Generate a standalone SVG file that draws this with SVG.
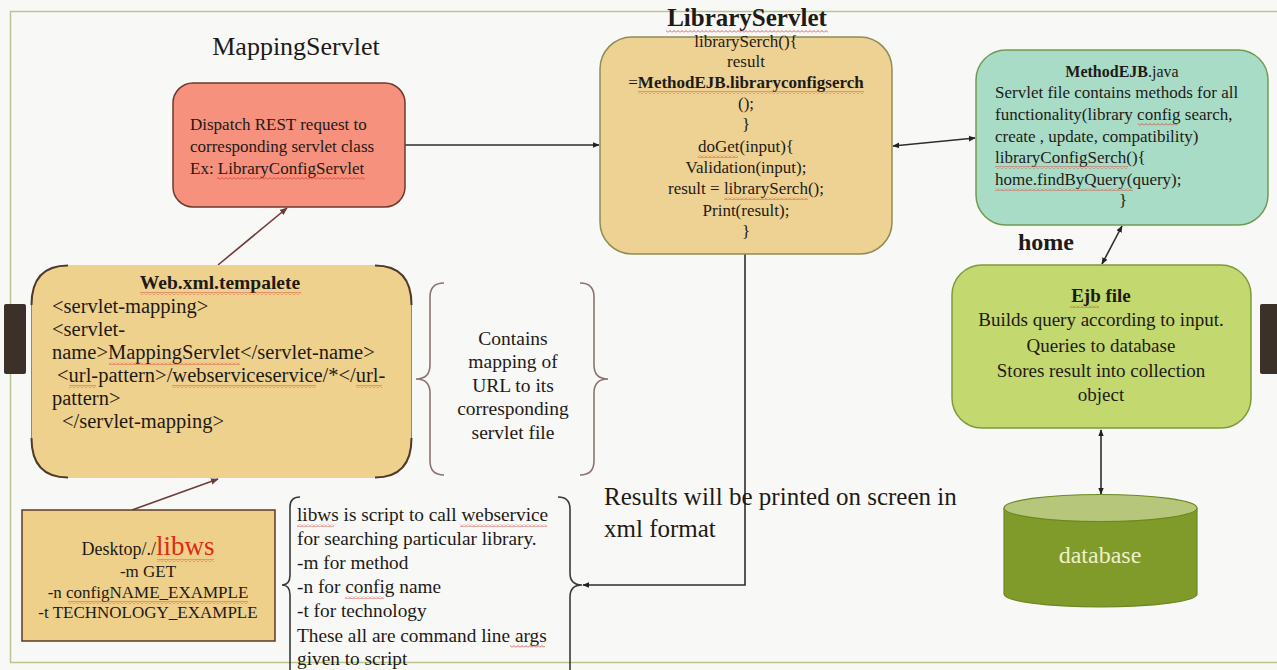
<svg xmlns="http://www.w3.org/2000/svg" width="1277" height="670" viewBox="0 0 1277 670">
  <style>
    text { font-family: "Liberation Serif", "Times New Roman", serif; fill: #1e1a16; }
    .b { font-weight: bold; }
    .c { text-anchor: middle; }
    .conn { fill: none; stroke: #2e2e2e; stroke-width: 1.6; }
    .conn-br { fill: none; stroke: #6e3b37; stroke-width: 1.6; }
    .brace { fill: none; stroke: #8c7470; stroke-width: 1.6; }
    .brace-dk { fill: none; stroke: #3a3a3a; stroke-width: 1.6; }
    .sq { fill: url(#squiggle); }
  </style>
  <defs>
    <marker id="ah" viewBox="0 0 10 10" refX="9" refY="5" markerWidth="7" markerHeight="7" orient="auto-start-reverse" markerUnits="userSpaceOnUse">
      <path d="M0,1 L10,5 L0,9 z" fill="#222"/>
    </marker>
    <marker id="ahb" viewBox="0 0 10 10" refX="9" refY="5" markerWidth="8" markerHeight="8" orient="auto" markerUnits="userSpaceOnUse">
      <path d="M0,1 L10,5 L0,9 z" fill="#6e3b37"/>
    </marker>
    <!-- red spell-check wave -->
    <pattern id="squiggle" width="4" height="3" patternUnits="userSpaceOnUse">
      <path d="M0,2.5 L2,0.5 L4,2.5" fill="none" stroke="#d83a30" stroke-width="0.8"/>
    </pattern>
  </defs>

  <!-- page -->
  <rect x="0" y="0" width="1277" height="670" fill="#f8f8f7"/>
  <rect x="10.5" y="11.5" width="1290" height="651" fill="none" stroke="#b7c68e" stroke-width="1.5"/>
  <rect x="4" y="304" width="22" height="70" rx="2" fill="#3b3128"/>
  <rect x="1260" y="304" width="22" height="70" rx="2" fill="#3b3128"/>

  <!-- connectors -->
  <g id="connectors">
    <line class="conn" x1="405" y1="145" x2="599" y2="145" marker-end="url(#ah)"/>
    <line class="conn" x1="893" y1="146" x2="975" y2="138" marker-start="url(#ah)" marker-end="url(#ah)"/>
    <line class="conn" x1="1122" y1="226" x2="1102" y2="264" marker-start="url(#ah)" marker-end="url(#ah)"/>
    <line class="conn" x1="1101" y1="430" x2="1101" y2="494" marker-start="url(#ah)" marker-end="url(#ah)"/>
    <line class="conn-br" x1="218" y1="265" x2="287" y2="208" marker-end="url(#ahb)"/>
    <line class="conn-br" x1="132" y1="510" x2="218" y2="479" marker-end="url(#ahb)"/>
    <path class="conn" d="M745,254 L745,585 L583,585" marker-end="url(#ah)"/>
  </g>

  <!-- MappingServlet -->
  <g id="mapping-servlet">
    <text x="296" y="55" class="c" font-size="26">MappingServlet</text>
    <rect x="173" y="83" width="232" height="124" rx="20" fill="#f5917d" stroke="#6b3a2e" stroke-width="1.5"/>
    <text x="190" y="130" font-size="17">Dispatch REST request to</text>
    <text x="190" y="152" font-size="17">corresponding servlet class</text>
    <text x="190" y="174" font-size="17">Ex: LibraryConfigServlet</text>
    <rect class="sq" x="217" y="177" width="148" height="3"/>
  </g>

  <!-- LibraryServlet -->
  <g id="library-servlet">
    <rect x="600" y="37" width="292" height="217" rx="32" fill="#eed293" stroke="#8e8c55" stroke-width="1.5"/>
    <text x="747" y="26" class="c b" font-size="25">LibraryServlet</text>
    <rect class="sq" x="666" y="30" width="162" height="3"/>
    <g font-size="17" text-anchor="middle">
      <text x="746" y="47">librarySerch(){</text>
      <text x="746" y="67">result</text>
      <text x="746" y="88"><tspan>=</tspan><tspan class="b">MethodEJB.libraryconfigserch</tspan></text>
      <text x="746" y="109">();</text>
      <text x="746" y="130">}</text>
      <text x="746" y="152">doGet(input){</text>
      <text x="746" y="173">Validation(input);</text>
      <text x="746" y="194">result = librarySerch();</text>
      <text x="746" y="216">Print(result);</text>
      <text x="746" y="237">}</text>
    </g>
    <rect class="sq" x="638" y="91" width="226" height="3"/>
    <rect class="sq" x="698" y="155" width="40" height="3"/>
    <rect class="sq" x="724" y="197" width="84" height="3"/>
  </g>

  <!-- MethodEJB.java -->
  <g id="method-ejb">
    <rect x="976" y="50" width="292" height="175" rx="30" fill="#a9dcc7" stroke="#6f9b52" stroke-width="1.5"/>
    <text x="1122" y="77" class="c" font-size="16"><tspan class="b">MethodEJB</tspan><tspan>.java</tspan></text>
    <g font-size="17">
      <text x="995" y="98">Servlet file contains methods for all</text>
      <text x="995" y="120">functionality(library config search,</text>
      <text x="995" y="142">create , update, compatibility)</text>
      <text x="995" y="163">libraryConfigSerch(){</text>
      <text x="995" y="185">home.findByQuery(query);</text>
      <text x="1123" y="206" class="c">}</text>
    </g>
    <rect class="sq" x="1138" y="123" width="40" height="3"/>
    <rect class="sq" x="995" y="166" width="133" height="3"/>
    <rect class="sq" x="995" y="188" width="138" height="3"/>
  </g>

  <text x="1018" y="250" class="b" font-size="24">home</text>

  <!-- Ejb file -->
  <g id="ejb-file">
    <rect x="952" y="265" width="299" height="163" rx="30" fill="#c3d86f" stroke="#7d9a3d" stroke-width="1.5"/>
    <g font-size="19" text-anchor="middle">
      <text x="1101" y="302" class="b">Ejb file</text>
      <text x="1101" y="326">Builds query  according to input.</text>
      <text x="1101" y="352">Queries to database</text>
      <text x="1101" y="377">Stores result into collection</text>
      <text x="1101" y="401">object</text>
    </g>
    <rect class="sq" x="1070" y="305" width="29" height="3"/>
  </g>

  <!-- database -->
  <g id="database">
    <path d="M1004,508 L1004,594 A96.5,13 0 0 0 1197,594 L1197,508" fill="#809b29" stroke="#6c8822" stroke-width="1.2"/>
    <ellipse cx="1100.5" cy="508" rx="96.5" ry="13.5" fill="#b6c67b" stroke="#6c8822" stroke-width="1.2"/>
    <text x="1100" y="563" class="c" font-size="24" style="fill:#eef0cc">database</text>
  </g>

  <!-- Web.xml.tempalete -->
  <g id="web-xml">
    <rect x="31" y="265" width="381" height="213" rx="34" fill="#efd18e"/>
    <path d="M31.5,300 L31.5,443 M411.5,300 L411.5,443" stroke="#a0845a" stroke-width="1" fill="none"/>
    <path d="M31.5,305 Q31.5,265.5 68,265.5 M375,265.5 Q411.5,265.5 411.5,305 M411.5,438 Q411.5,477.5 375,477.5 M68,477.5 Q31.5,477.5 31.5,438" stroke="#4e3a2a" stroke-width="2" fill="none"/>
    <text x="220" y="289" class="c b" font-size="19.5">Web.xml.tempalete</text>
    <rect class="sq" x="140" y="292" width="161" height="3"/>
    <g font-size="20.5">
      <text x="52" y="313">&lt;servlet-mapping&gt;</text>
      <text x="52" y="336">&lt;servlet-</text>
      <text x="52" y="359">name&gt;MappingServlet&lt;/servlet-name&gt;</text>
      <text x="57" y="382">&lt;url-pattern&gt;/webserviceservice/*&lt;/url-</text>
      <text x="52" y="405">pattern&gt;</text>
      <text x="62" y="428">&lt;/servlet-mapping&gt;</text>
    </g>
    <rect class="sq" x="109" y="362" width="131" height="3"/>
    <rect class="sq" x="69" y="385" width="27" height="3"/>
    <rect class="sq" x="172" y="385" width="144" height="3"/>
    <rect class="sq" x="356" y="385" width="26" height="3"/>
  </g>

  <!-- mapping note -->
  <g id="mapping-note">
    <path class="brace" d="M444,283 Q430,283 430,297 L430,365 Q430,379 416,379 Q430,379 430,393 L430,461 Q430,475 444,475"/>
    <path class="brace" d="M580,283 Q594,283 594,297 L594,365 Q594,379 608,379 Q594,379 594,393 L594,461 Q594,475 580,475"/>
    <g font-size="19.5" text-anchor="middle">
      <text x="513" y="345">Contains</text>
      <text x="513" y="368">mapping of</text>
      <text x="513" y="392">URL to its</text>
      <text x="513" y="415">corresponding</text>
      <text x="513" y="439">servlet file</text>
    </g>
  </g>

  <!-- command line -->
  <g id="libws-command">
    <rect x="22" y="510" width="253" height="131" fill="#efd08b" stroke="#5a3a2a" stroke-width="1.5"/>
    <text x="148" y="555" class="c" font-size="18"><tspan>Desktop/./</tspan><tspan font-size="27" style="fill:#dd2a12">libws</tspan></text>
    <g font-size="17" text-anchor="middle">
      <text x="148" y="577">-m GET</text>
      <text x="148" y="598">-n configNAME_EXAMPLE</text>
      <text x="148" y="618">-t TECHNOLOGY_EXAMPLE</text>
    </g>
    <rect class="sq" x="157" y="559" width="57" height="3"/>
    <rect class="sq" x="68" y="601" width="180" height="3"/>
  </g>

  <!-- libws note -->
  <g id="libws-note">
    <path class="brace-dk" d="M300,497 Q290,497 290,507 L290,575 Q290,585 282,585 Q290,585 290,595 L290,690"/>
    <path class="brace-dk" d="M558,497 Q570,497 570,509 L570,573 Q570,585 582,585 Q570,585 570,597 L570,690"/>
    <g font-size="19.3">
      <text x="297" y="521">libws is script to call webservice</text>
      <text x="297" y="545">for searching particular library.</text>
      <text x="297" y="569">-m for method</text>
      <text x="297" y="593">-n for config name</text>
      <text x="297" y="617">-t for technology</text>
      <text x="297" y="642">These all are command line args</text>
      <text x="297" y="665">given to script</text>
    </g>
    <rect class="sq" x="297" y="524" width="37" height="3"/>
    <rect class="sq" x="460" y="524" width="87" height="3"/>
    <rect class="sq" x="345" y="596" width="39" height="3"/>
    <rect class="sq" x="510" y="645" width="35" height="3"/>
  </g>

  <!-- output note -->
  <g id="output-note">
    <text x="604" y="505" font-size="25">Results will be printed on screen in</text>
    <text x="604" y="537" font-size="25">xml format</text>
  </g>
</svg>
